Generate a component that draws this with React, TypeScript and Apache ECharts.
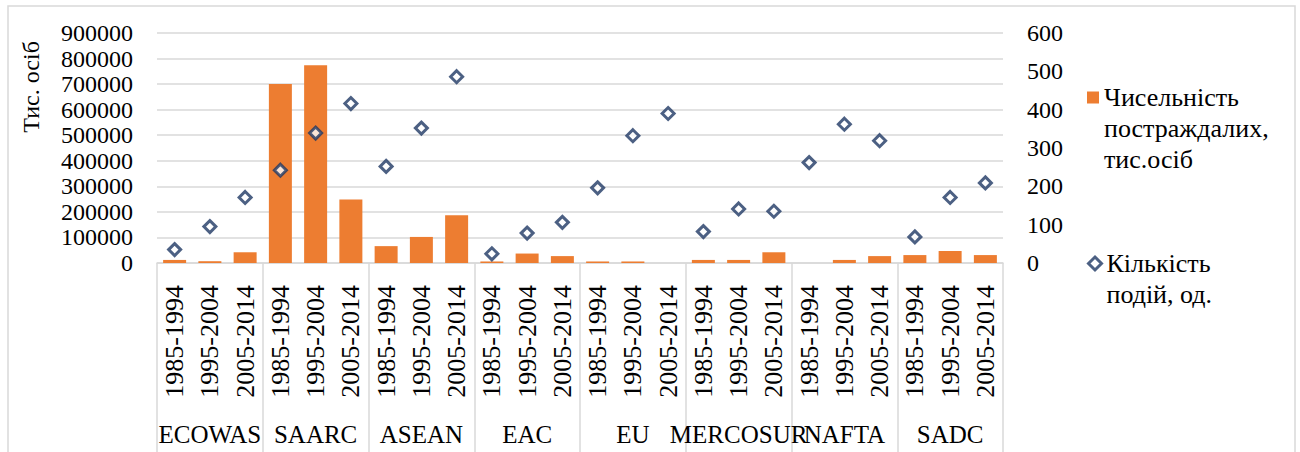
import React, { useEffect, useRef } from "react";
import * as echarts from "echarts";

const groups = ["ECOWAS", "SAARC", "ASEAN", "EAC", "EU", "MERCOSUR", "NAFTA", "SADC"];
const periods = ["1985-1994", "1995-2004", "2005-2014"];
const victims = [
  12000, 7000, 42000,
  700000, 774000, 248000,
  66000, 102000, 187000,
  6000, 37000, 27000,
  6000, 6000, 0,
  12000, 12000, 42000,
  0, 12000, 27000,
  31000, 47000, 31000,
];
const events = [
  35, 95, 171,
  242, 339, 416,
  252, 352, 486,
  24, 78, 106,
  196, 332, 390,
  82, 141, 135,
  262, 362, 319,
  68, 171, 209,
];
const leftTicks = { min: 0, max: 900000, interval: 100000 };
const rightTicks = { min: 0, max: 600, interval: 100 };
const victimsName = "Чисельність\nпостраждалих,\nтис.осіб";
const eventsName = "Кількість\nподій, од.";
const leftAxisTitle = "Тис. осіб";

const FONT = "'Liberation Serif'";
const ORANGE = "#ED7D31";
const NAVY = "#1F3864";
const GRID = "#D9D9D9";

export default function App() {
  const ref = useRef<HTMLDivElement>(null);
  useEffect(() => {
    if (!ref.current) return;
    const chart = echarts.init(ref.current, null, { renderer: "svg" });
    const categories: string[] = [];
    groups.forEach(() => periods.forEach((p) => categories.push(p)));
    const legendText = { fontSize: 26, lineHeight: 31, color: "#000", fontFamily: FONT };
    chart.setOption({
      animation: false,
      textStyle: { fontFamily: FONT },
      grid: { left: 157, right: 297, top: 33, bottom: 189, containLabel: false },
      xAxis: [
        {
          type: "category",
          data: categories,
          position: "bottom",
          axisLine: { show: true, lineStyle: { color: GRID, width: 1.5 } },
          axisTick: { show: false },
          axisLabel: {
            interval: 0,
            rotate: 90,
            margin: 22,
            fontSize: 26,
            color: "#000",
            fontFamily: FONT,
          },
        },
        {
          type: "category",
          data: groups,
          position: "bottom",
          axisLine: { show: false },
          axisTick: { show: true, length: 200, lineStyle: { color: GRID, width: 1.5 } },
          axisLabel: {
            interval: 0,
            margin: 159,
            fontSize: 25,
            color: "#000",
            fontFamily: FONT,
          },
        },
      ],
      yAxis: [
        {
          type: "value",
          ...leftTicks,
          axisLine: { show: false },
          axisTick: { show: false },
          splitLine: { lineStyle: { color: GRID, width: 1.5 } },
          axisLabel: {
            margin: 24,
            fontSize: 24,
            color: "#000",
            fontFamily: FONT,
            formatter: (v: number) => String(v),
          },
        },
        {
          type: "value",
          ...rightTicks,
          position: "right",
          axisLine: { show: false },
          axisTick: { show: false },
          splitLine: { show: false },
          axisLabel: {
            margin: 24,
            fontSize: 24,
            color: "#000",
            fontFamily: FONT,
            formatter: (v: number) => String(v),
          },
        },
      ],
      legend: [
        {
          orient: "vertical",
          left: 1082,
          top: 15,
          itemWidth: 12,
          itemHeight: 12,
          itemGap: 0,
          formatter: (n: string) => "\n\n" + n,
          data: [{ name: victimsName, icon: "rect" }],
          textStyle: legendText,
        },
        {
          orient: "vertical",
          left: 1082,
          top: 212,
          itemWidth: 13,
          itemHeight: 13,
          itemGap: 0,
          formatter: (n: string) => "\n" + n,
          data: [
            {
              name: eventsName,
              icon: "diamond",
              itemStyle: { color: "#fff", borderColor: NAVY, borderWidth: 3 },
            },
          ],
          textStyle: legendText,
        },
      ],
      graphic: [
        {
          type: "rect",
          shape: { x: 8, y: 6, width: 1287, height: 470 },
          style: { fill: "none", stroke: GRID, lineWidth: 1.5 },
          silent: true,
        },
        {
          type: "text",
          x: 31,
          y: 87,
          rotation: Math.PI / 2,
          style: {
            text: leftAxisTitle,
            align: "center",
            verticalAlign: "middle",
            fontSize: 24,
            fontFamily: FONT,
            fill: "#000",
          },
        },
      ],
      series: [
        {
          name: victimsName,
          type: "bar",
          xAxisIndex: 0,
          yAxisIndex: 0,
          data: victims,
          barWidth: 23,
          itemStyle: { color: ORANGE },
        },
        {
          name: eventsName,
          type: "scatter",
          xAxisIndex: 0,
          yAxisIndex: 1,
          data: events,
          symbol: "diamond",
          symbolSize: 12,
          itemStyle: { color: "#fff", borderColor: NAVY, borderWidth: 3 },
        },
      ],
    });
    return () => chart.dispose();
  }, []);
  return (
    <div
      ref={ref}
      style={{ position: "absolute", left: 0, top: 0, width: 1300, height: 452 }}
    />
  );
}
